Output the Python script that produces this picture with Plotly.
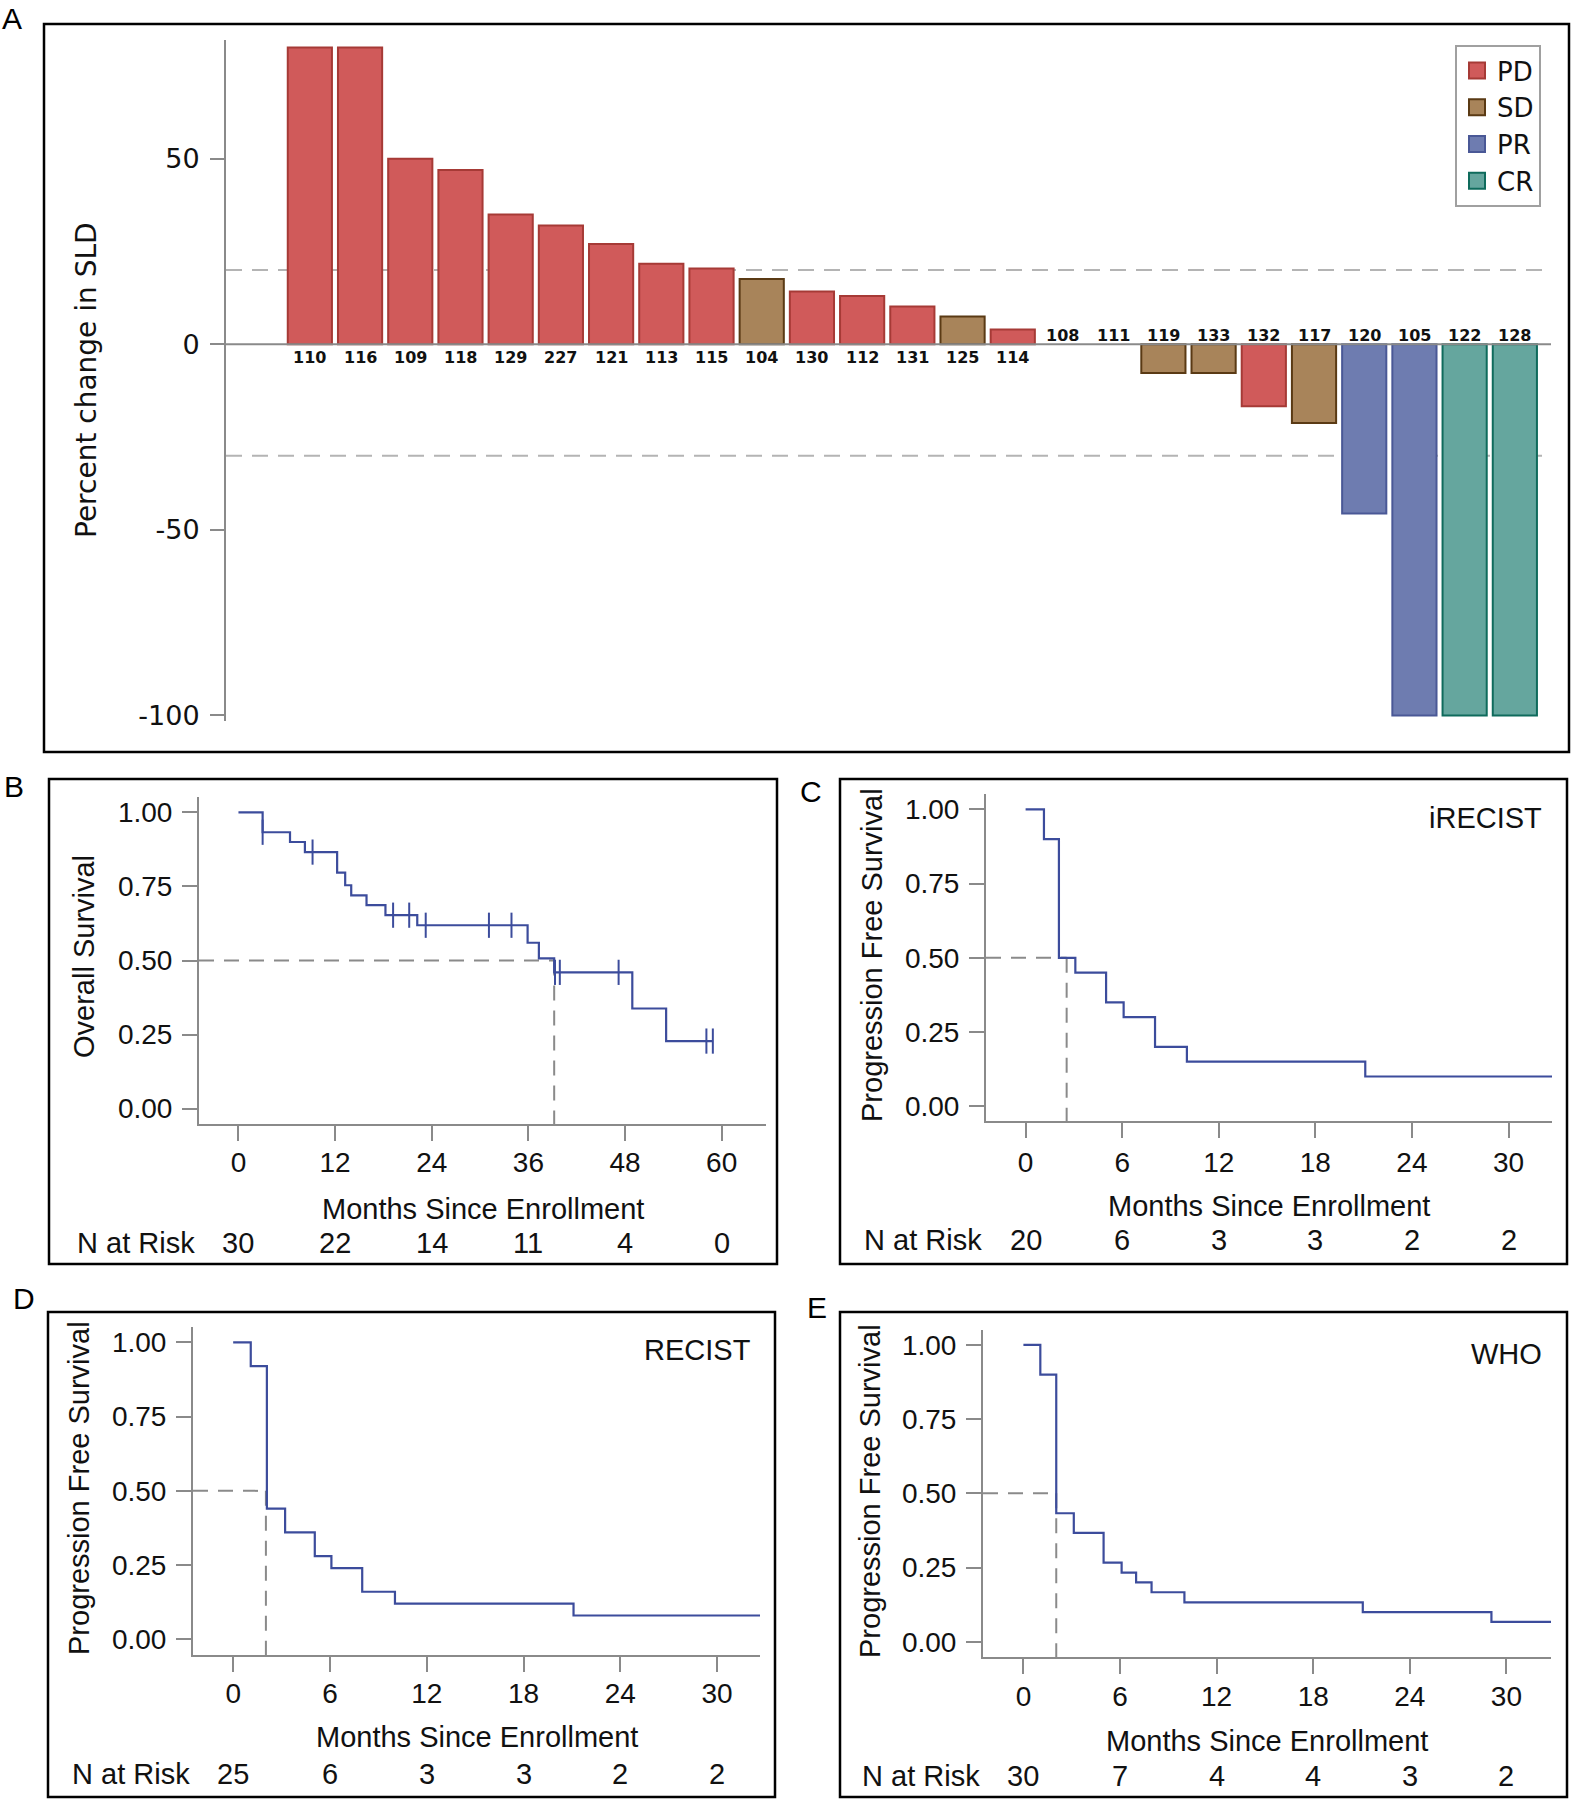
import plotly.graph_objects as go

W, H = 1571, 1800
def px(x): return x / W
def py(y): return 1 - y / H

# ---------------- Panel A data ----------------
patient_ids = ["110", "116", "109", "118", "129", "227", "121", "113", "115", "104",
               "130", "112", "131", "125", "114", "108", "111", "119", "133", "132",
               "117", "120", "105", "122", "128"]
pct_change = [80, 80, 50, 47, 35, 32, 27, 21.7, 20.4, 17.6,
              14.2, 13, 10.2, 7.5, 4, 0, 0, -7.7, -7.7, -16.7,
              -21.2, -45.6, -100, -100, -100]
response = ["PD", "PD", "PD", "PD", "PD", "PD", "PD", "PD", "PD", "SD",
            "PD", "PD", "PD", "SD", "PD", "SD", "SD", "SD", "SD", "PD",
            "SD", "PR", "PR", "CR", "CR"]
response_levels = ["PD", "SD", "PR", "CR"]
ref_lines_A = [20, -30]
yticks_A = [-100, -50, 0, 50]
yticktext_A = ["-100", "-50", "0", "50"]

# ---------------- KM data ----------------
os_time = [0, 3.0, 6.4, 8.25, 12.25, 13.25, 14.0, 15.9, 18.25, 22.2, 35.9, 37.3, 39.2, 48.9, 53.1, 58.9]
os_surv = [1.0, 0.933, 0.9, 0.866, 0.797, 0.754, 0.72, 0.687, 0.653, 0.619, 0.56, 0.507, 0.46, 0.338, 0.228, 0.228]
os_censor = [3.0, 9.2, 19.2, 21.2, 23.25, 31.1, 33.9, 39.3, 39.9, 47.2, 58.1, 58.9]
os_median = 39.2
os_ticks = [0, 12, 24, 36, 48, 60]
os_risk = [30, 22, 14, 11, 4, 0]

irecist_time = [0, 1.14, 2.07, 3.09, 5.0, 6.09, 8.04, 10.02, 21.1, 33]
irecist_surv = [1.0, 0.9, 0.5, 0.45, 0.35, 0.30, 0.20, 0.15, 0.10, 0.10]
irecist_median = 2.55
irecist_risk = [20, 6, 3, 3, 2, 2]

recist_time = [0, 1.09, 2.09, 3.22, 5.06, 6.09, 8.0, 10.03, 21.1, 33]
recist_surv = [1.0, 0.92, 0.44, 0.36, 0.28, 0.24, 0.16, 0.12, 0.08, 0.08]
recist_median = 2.03
recist_risk = [25, 6, 3, 3, 2, 2]

who_time = [0, 1.05, 2.04, 3.13, 4.98, 6.1, 7.0, 7.96, 10.0, 21.08, 29.07, 33]
who_surv = [1.0, 0.9, 0.433, 0.367, 0.267, 0.233, 0.2, 0.167, 0.133, 0.1, 0.067, 0.067]
who_median = 2.04
who_risk = [30, 7, 4, 4, 3, 2]

pfs_ticks = [0, 6, 12, 18, 24, 30]
surv_ticks = [0, 0.25, 0.5, 0.75, 1.0]

# ---------------- styles ----------------
colors = {"PD": ("#D05A5A", "#A63A36"), "SD": ("#A8845A", "#5A3A14"),
          "PR": ("#6E7CB0", "#4A5896"), "CR": ("#65A69E", "#0F6B5C")}
AX = "#8A8A8A"
KMC = "#3C4C9C"
FA = "DejaVu Sans"
FK = "Liberation Sans, Arial"
TXT = "#111111"

fig = go.Figure()

# ---------------- Panel A ----------------
for cat in response_levels:
    xs = [i for i, (v, r) in enumerate(zip(pct_change, response)) if r == cat and v != 0]
    ys = [pct_change[i] for i in xs]
    fill, edge = colors[cat]
    fig.add_trace(go.Bar(x=xs, y=ys, width=0.88, xaxis="x", yaxis="y",
                         marker=dict(color=fill, line=dict(color=edge, width=2)),
                         showlegend=False, hoverinfo="skip"))
for cat in response_levels:
    fill, edge = colors[cat]
    fig.add_trace(go.Scatter(x=[None], y=[None], mode="markers", name=cat, xaxis="x", yaxis="y",
                             marker=dict(symbol="square", size=16, color=fill,
                                         line=dict(color=edge, width=2))))

shapes = []
for v in ref_lines_A:
    shapes.append(dict(type="line", xref="x domain", x0=0, x1=1, yref="y", y0=v, y1=v,
                       line=dict(color="#B4B4B4", width=2, dash="16px,10px"), layer="below"))
shapes.append(dict(type="line", xref="x domain", x0=0, x1=1, yref="y", y0=0, y1=0,
                   line=dict(color=AX, width=2), layer="above"))

annotations = []
for i, (pid, v) in enumerate(zip(patient_ids, pct_change)):
    annotations.append(dict(x=i, y=0, xref="x", yref="y", text=pid, showarrow=False,
                            xanchor="center", yanchor="top" if v > 0 else "bottom",
                            yshift=-2 if v > 0 else -3,
                            font=dict(family=FA, size=16, color=TXT, weight="bold")))

annotations.append(dict(x=px(86), y=py(380), xref="paper", yref="paper", text="Percent change in SLD",
                        textangle=-90, showarrow=False, xanchor="center", yanchor="middle",
                        font=dict(family=FA, size=28, color=TXT)))

fig.update_layout(
    xaxis=dict(domain=[px(226), px(1551)], range=[-1.67, 24.72], showticklabels=False,
               showline=False, showgrid=False, zeroline=False, ticks="", anchor="y", automargin=False),
    yaxis=dict(domain=[py(721), py(40)], range=[-101.5, 82], tickvals=yticks_A, ticktext=yticktext_A,
               showline=True, linecolor=AX, linewidth=2, ticks="outside", ticklen=14,
               tickwidth=2, tickcolor=AX, showgrid=False, zeroline=False, anchor="x", automargin=False,
               tickfont=dict(family=FA, size=27, color=TXT), ticklabelstandoff=5),
)

# ---------------- KM panels ----------------
def step_value(times, surv, t):
    val = surv[0]
    for tt, ss in zip(times, surv):
        if tt <= t:
            val = ss
    return val

panels = [
    dict(n=2, t=os_time, s=os_surv, med=os_median, ticks=os_ticks, risk=os_risk,
         xd=(199, 766), yd=(1124, 797), xr=[-4.9, 65.5], yr=[-0.052, 1.052], tstand=-3,
         ylab="Overall Survival", ylab_xy=(84, 957), xlab_y=1209, risk_y=1243, risk_x=75, tag=None),
    dict(n=3, t=irecist_time, s=irecist_surv, med=irecist_median, ticks=pfs_ticks, risk=irecist_risk,
         xd=(986, 1552), yd=(1121, 794), xr=[-2.46, 32.7], yr=[-0.05, 1.052], tstand=0,
         ylab="Progression Free Survival", ylab_xy=(872, 955), xlab_y=1206, risk_y=1240, risk_x=862,
         tag=("iRECIST", 1544, 818)),
    dict(n=4, t=recist_time, s=recist_surv, med=recist_median, ticks=pfs_ticks, risk=recist_risk,
         xd=(193, 760), yd=(1655, 1327), xr=[-2.49, 32.66], yr=[-0.053, 1.052], tstand=-3,
         ylab="Progression Free Survival", ylab_xy=(79, 1488), xlab_y=1737, risk_y=1774, risk_x=70,
         tag=("RECIST", 753, 1350)),
    dict(n=5, t=who_time, s=who_surv, med=who_median, ticks=pfs_ticks, risk=who_risk,
         xd=(983, 1551), yd=(1657, 1330), xr=[-2.51, 32.77], yr=[-0.051, 1.05], tstand=-2,
         ylab="Progression Free Survival", ylab_xy=(870, 1491), xlab_y=1741, risk_y=1776, risk_x=860,
         tag=("WHO", 1544, 1354)),
]

for p in panels:
    n = p["n"]
    xa, ya = f"x{n}", f"y{n}"
    fig.add_trace(go.Scatter(x=p["t"], y=p["s"], mode="lines", line=dict(color=KMC, width=2.2, shape="hv"),
                             xaxis=xa, yaxis=ya, showlegend=False, hoverinfo="skip"))
    shapes.append(dict(type="line", xref=xa, yref=ya, x0=p["xr"][0], x1=p["med"], y0=0.5, y1=0.5,
                       line=dict(color="#8A8A8A", width=2, dash="15px,10px"), layer="below"))
    shapes.append(dict(type="line", xref=xa, yref=ya, x0=p["med"], x1=p["med"], y0=0.5, y1=p["yr"][0],
                       line=dict(color="#8A8A8A", width=2, dash="15px,10px"), layer="below"))
    fig.update_layout({
        f"xaxis{n}": dict(domain=[px(p["xd"][0]), px(p["xd"][1])], range=p["xr"], tickvals=p["ticks"],
                          showline=True, linecolor=AX, linewidth=2, ticks="outside", ticklen=15,
                          tickwidth=2, tickcolor=AX, showgrid=False, zeroline=False, anchor=ya,
                          automargin=False,
                          tickfont=dict(family=FK, size=28, color=TXT), ticklabelstandoff=p["tstand"]),
        f"yaxis{n}": dict(domain=[py(p["yd"][0]), py(p["yd"][1])], range=p["yr"], tickvals=surv_ticks,
                          tickformat=".2f", showline=True, linecolor=AX, linewidth=2, ticks="outside",
                          ticklen=15, tickwidth=2, tickcolor=AX, showgrid=False, zeroline=False,
                          anchor=xa, automargin=False,
                          tickfont=dict(family=FK, size=28, color=TXT), ticklabelstandoff=4),
    })
    annotations.append(dict(x=px(p["ylab_xy"][0]), y=py(p["ylab_xy"][1]), xref="paper", yref="paper",
                            text=p["ylab"], textangle=-90, showarrow=False,
                            xanchor="center", yanchor="middle",
                            font=dict(family=FK, size=29, color=TXT)))
    annotations.append(dict(x=(p["xd"][0] + p["xd"][1]) / 2 / W, y=py(p["xlab_y"]), xref="paper", yref="paper",
                            text="Months Since Enrollment", showarrow=False,
                            xanchor="center", yanchor="middle",
                            font=dict(family=FK, size=29, color=TXT)))
    annotations.append(dict(x=px(p["risk_x"]), y=py(p["risk_y"]), xref="paper", yref="paper",
                            text="N at Risk", showarrow=False, xanchor="left", yanchor="middle",
                            font=dict(family=FK, size=29, color=TXT)))
    for tv, r in zip(p["ticks"], p["risk"]):
        annotations.append(dict(x=tv, y=py(p["risk_y"]), xref=xa, yref="paper", text=str(r),
                                showarrow=False, xanchor="center", yanchor="middle",
                                font=dict(family=FK, size=29, color=TXT)))
    if p["tag"]:
        annotations.append(dict(x=px(p["tag"][1]), y=py(p["tag"][2]), xref="paper", yref="paper",
                                text=p["tag"][0], showarrow=False, xanchor="right", yanchor="middle",
                                font=dict(family=FK, size=29, color=TXT)))

# censor marks for OS
fig.add_trace(go.Scatter(x=os_censor, y=[step_value(os_time, os_surv, t) for t in os_censor],
                         mode="markers", xaxis="x2", yaxis="y2", showlegend=False, hoverinfo="skip",
                         marker=dict(symbol="line-ns", size=18, line=dict(color=KMC, width=2))))

# panel frames
frames = [(44, 24, 1569, 752), (49, 779, 777, 1264), (840, 779, 1567, 1264),
          (48, 1312, 775, 1797), (840, 1312, 1567, 1797)]
for (x0, y0, x1, y1) in frames:
    shapes.append(dict(type="rect", xref="paper", yref="paper", x0=px(x0), x1=px(x1), y0=py(y0), y1=py(y1),
                       line=dict(color="black", width=2.5)))

letters = [("A", 12, 18), ("B", 14, 786), ("C", 811, 791), ("D", 24, 1298), ("E", 817, 1307)]
for t, x, y in letters:
    annotations.append(dict(x=px(x), y=py(y), xref="paper", yref="paper", text=t, showarrow=False,
                            xanchor="center", yanchor="middle",
                            font=dict(family=FK, size=30, color="black")))

fig.update_layout(
    width=W, height=H, margin=dict(l=0, r=0, t=0, b=0, pad=0, autoexpand=False),
    paper_bgcolor="white", plot_bgcolor="white",
    barmode="overlay",
    shapes=shapes, annotations=annotations,
    legend=dict(x=px(1541), y=py(45), xanchor="right", yanchor="top", bordercolor="#A0A0A0",
                borderwidth=2, bgcolor="white", font=dict(family=FA, size=26, color=TXT),
                itemwidth=30, tracegroupgap=0),
)

fig.write_html("out.html", config={"displayModeBar": False},
               post_script="document.body.style.margin='0';document.body.style.fontSize='0';"
                           "document.body.style.lineHeight='0';"
                           "document.documentElement.style.overflow='hidden';")
